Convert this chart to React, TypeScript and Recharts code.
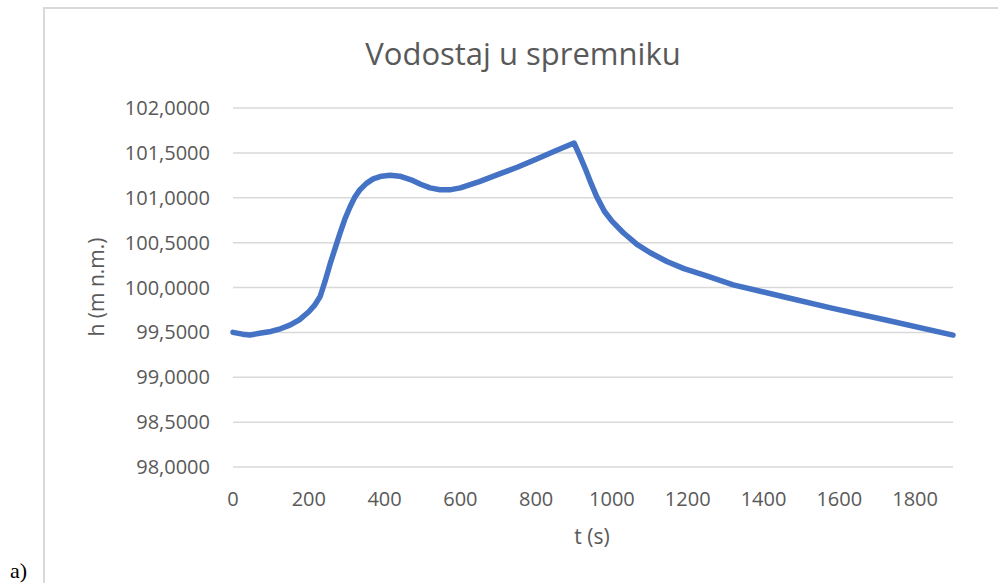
import React from 'react';
import { LineChart, Line, XAxis, YAxis, CartesianGrid } from 'recharts';

const times = [0, 25, 45, 70, 100, 125, 150, 175, 200, 215, 230, 243, 256, 269, 282, 295, 309, 322, 335, 352, 370, 392, 415, 440, 470, 495, 520, 546, 575, 600, 650, 700, 750, 800, 850, 900, 915, 930, 945, 960, 980, 1000, 1030, 1066, 1100, 1145, 1190, 1250, 1320, 1450, 1580, 1720, 1900];
const levels = [99.5, 99.48, 99.47, 99.49, 99.51, 99.54, 99.58, 99.64, 99.73, 99.8, 99.9, 100.07, 100.26, 100.43, 100.6, 100.76, 100.9, 101.01, 101.09, 101.16, 101.21, 101.24, 101.25, 101.24, 101.2, 101.15, 101.11, 101.09, 101.09, 101.11, 101.18, 101.26, 101.34, 101.43, 101.52, 101.61, 101.47, 101.32, 101.16, 101.01, 100.85, 100.74, 100.61, 100.48, 100.39, 100.29, 100.21, 100.13, 100.03, 99.9, 99.77, 99.64, 99.47];
const xTicks = [0, 200, 400, 600, 800, 1000, 1200, 1400, 1600, 1800];
const yTicks = [98, 98.5, 99, 99.5, 100, 100.5, 101, 101.5, 102];

const data = times.map((t, i) => ({ t, h: levels[i] }));

const FONT = '"Open Sans", sans-serif';
const TXT = '#595959';

export default function App() {
  return (
    <div style={{ position: 'absolute', left: 0, top: 0, width: 998, height: 583, overflow: 'hidden', background: '#fff' }}>
      <div style={{ position: 'absolute', left: 43, top: 7, width: 1000, height: 620, border: '2px solid #d9d9d9', boxSizing: 'border-box' }} />
      <div style={{ position: 'absolute', left: 10, top: 560, fontFamily: '"Liberation Serif", serif', fontSize: 22, lineHeight: '22px', color: '#000' }}>a)</div>
      <div style={{ position: 'absolute', left: 0, width: 1046, top: 32, textAlign: 'center', fontFamily: FONT, fontSize: 31, lineHeight: '42px', color: TXT }}>Vodostaj u spremniku</div>
      <div style={{ position: 'absolute', left: 96, top: 287, width: 0, height: 0 }}>
        <div style={{ position: 'absolute', left: -100, top: -15, width: 200, textAlign: 'center', transform: 'rotate(-90deg)', fontFamily: FONT, fontSize: 21, lineHeight: '30px', color: TXT, whiteSpace: 'nowrap' }}>h (m n.m.)</div>
      </div>
      <div style={{ position: 'absolute', left: 492, width: 200, top: 521, textAlign: 'center', fontFamily: FONT, fontSize: 21, lineHeight: '30px', color: TXT }}>t (s)</div>
      <div style={{ position: 'absolute', left: 0, top: 0 }}>
        <LineChart width={998} height={583} data={data} margin={{ top: 108, right: 45, bottom: 86, left: 0 }}>
          <CartesianGrid vertical={false} stroke="#d9d9d9" strokeWidth={1.5} />
          <XAxis
            dataKey="t"
            type="number"
            domain={[0, 1900]}
            ticks={xTicks}
            axisLine={false}
            tickLine={false}
            height={30}
            tickMargin={19}
            tick={{ fill: TXT, fontSize: 20, fontFamily: FONT }}
          />
          <YAxis
            type="number"
            domain={[98, 102]}
            ticks={yTicks}
            axisLine={false}
            tickLine={false}
            width={233}
            tickMargin={17}
            tickFormatter={(v: number) => v.toFixed(4).replace('.', ',')}
            tick={{ fill: TXT, fontSize: 20, fontFamily: FONT }}
          />
          <Line dataKey="h" type="linear" stroke="#4472C4" strokeWidth={5.5} dot={false} isAnimationActive={false} strokeLinejoin="round" strokeLinecap="round" />
        </LineChart>
      </div>
    </div>
  );
}
